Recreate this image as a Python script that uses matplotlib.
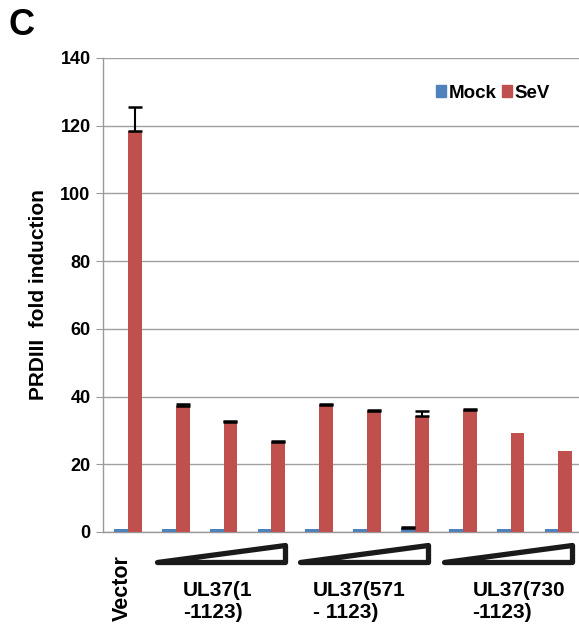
import matplotlib.pyplot as plt
import numpy as np
from matplotlib.patches import Patch, Polygon
import matplotlib.transforms as mtransforms

plt.rcParams['font.family'] = ['Liberation Sans', 'DejaVu Sans']
plt.rcParams['font.weight'] = 'bold'

# valores
grupos = ['Vector', '', '', '', '', '', '', '', '', '']
mock = [1.0, 1.0, 1.0, 1.0, 1.0, 1.0, 1.2, 1.0, 1.0, 1.0]
mock_err = [0, 0, 0, 0, 0, 0, 0.3, 0, 0, 0]
sev = [118.4, 37.3, 32.5, 26.7, 37.5, 35.8, 34.4, 36.0, 29.1, 24.0]
sev_err = [7.2, 0.6, 0.3, 0.3, 0.3, 0.3, 1.4, 0.3, 0.0, 0.0]
construcoes = ['UL37(1\n-1123)', 'UL37(571\n- 1123)', 'UL37(730\n-1123)']
indices_construcoes = [[1, 2, 3], [4, 5, 6], [7, 8, 9]]
x_rotulos = [1.15, 3.87, 7.2]

azul = '#4F81BD'
vermelho = '#C0504D'

fig = plt.figure(figsize=(5.79, 6.31), dpi=100)
ax = fig.add_axes([103 / 579, 1 - 532 / 631, 1 - 103 / 579, (532 - 58) / 631])

x = np.arange(len(grupos))
w = 0.29
ax.bar(x - w / 2, mock, w, color=azul, zorder=3)
ax.bar(x + w / 2, sev, w, color=vermelho, zorder=3)


def barras_erro(xs, ys, errs):
    xs = np.asarray(xs)
    ys = np.asarray(ys)
    errs = np.asarray(errs)
    m = errs > 0
    ax.errorbar(xs[m], ys[m], yerr=[np.zeros(m.sum()), errs[m]], fmt='none',
                ecolor='black', elinewidth=1.5, capsize=5, capthick=1.8, zorder=4)


barras_erro(x - w / 2, mock, mock_err)
barras_erro(x + w / 2, sev, sev_err)

ax.set_xlim(-0.52, 9.43)
ax.set_ylim(0, 140)
ax.set_yticks(range(0, 141, 20))
ax.tick_params(axis='y', labelsize=13, length=5, color='#999999', pad=4)
ax.set_xticks([])
ax.grid(axis='y', color='#A0A0A0', linewidth=1, zorder=0)
for s in ['top', 'right']:
    ax.spines[s].set_visible(False)
for s in ['left', 'bottom']:
    ax.spines[s].set_color('#999999')
    ax.spines[s].set_linewidth(1)

ax.set_ylabel('PRDIII  fold induction', fontsize=15, fontweight='bold', labelpad=9)

trans = mtransforms.blended_transform_factory(ax.transData, ax.transAxes)
ax.text(-0.12, -0.048, 'Vector', rotation=90, ha='center', va='top',
        fontsize=15.5, fontweight='bold', transform=trans)

for nome, idx, xr in zip(construcoes, indices_construcoes, x_rotulos):
    x0 = idx[0] - 0.4
    x1 = idx[-1] + 0.28
    tri = Polygon([[x0, -0.063], [x1, -0.063], [x1, -0.028]], closed=True,
                  facecolor='white', edgecolor='#1a1a1a', linewidth=3.8,
                  joinstyle='round', transform=trans, clip_on=False)
    ax.add_patch(tri)
    ax.text(xr, -0.104, nome, ha='left', va='top', fontsize=15, fontweight='bold',
            linespacing=1.15, transform=trans)

handles = [Patch(color=azul), Patch(color=vermelho)]
fig.legend(handles, ['Mock', 'SeV'], loc='center left',
           bbox_to_anchor=(436 / 579, 1 - 93 / 631), ncol=2, frameon=False,
           handlelength=0.55, handleheight=0.55,
           handletextpad=0.12, columnspacing=0.3, borderpad=0, borderaxespad=0,
           prop={'weight': 'bold', 'size': 13.5})

fig.text(9 / 579, 1 - 8 / 631, 'C', fontsize=26, fontweight='bold', va='top', ha='left')

fig.savefig('out.png', dpi=100)
